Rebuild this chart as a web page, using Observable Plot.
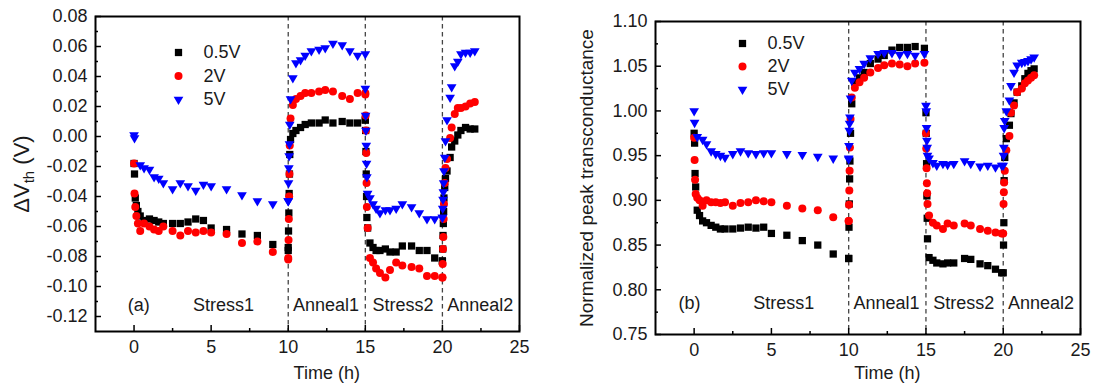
<!DOCTYPE html>
<html>
<head>
<meta charset="utf-8">
<script src="https://cdn.jsdelivr.net/npm/d3@7"></script>
<script src="https://cdn.jsdelivr.net/npm/@observablehq/plot@0.6"></script>
<style>
  body { margin: 0; background: #fff; }
  #wrap { display: flex; width: 1094px; height: 385px; }
</style>
</head>
<body>
<div id="wrap"></div>
<script>
// ---------- shared ----------
const seriesNames = ["0.5V", "2V", "5V"];
const phaseNames = ["Stress1", "Anneal1", "Stress2", "Anneal2"];
const phaseCenters = [5.8, 12.45, 17.45, 22.45];
const phaseBounds = [10, 15, 20];
const xMajor = [0, 5, 10, 15, 20, 25];
const xMinor = [2.5, 7.5, 12.5, 17.5, 22.5];

// ---------- panel (a): ΔVth ----------
const aYMajor = [-0.12, -0.10, -0.08, -0.06, -0.04, -0.02, 0.00, 0.02, 0.04, 0.06, 0.08];
const aYMinor = [-0.11, -0.09, -0.07, -0.05, -0.03, -0.01, 0.01, 0.03, 0.05, 0.07];

const aT_s1 = [0, 0.03, 0.08, 0.15, 0.25, 0.4, 0.65, 1.0, 1.3, 1.6, 1.9, 2.5, 3.0, 3.5, 4.0, 4.5, 5.0, 6, 7, 8, 9, 10];
const a05_s1 = [-0.018, -0.025, -0.041, -0.046, -0.050, -0.053, -0.056, -0.055, -0.056, -0.057, -0.058, -0.058, -0.058, -0.057, -0.055, -0.056, -0.061, -0.062, -0.065, -0.066, -0.072, -0.076];
const a2_s1 = [-0.018, -0.038, -0.047, -0.053, -0.058, -0.063, -0.058, -0.060, -0.062, -0.063, -0.060, -0.063, -0.066, -0.063, -0.064, -0.063, -0.064, -0.065, -0.071, -0.070, -0.077, -0.082];
const a5_s1 = [0.001, -0.001, null, null, null, -0.019, -0.021, -0.022, -0.027, -0.028, -0.031, -0.035, -0.031, -0.033, -0.036, -0.032, -0.033, -0.035, -0.039, -0.043, -0.045, -0.043];

const aT_a1 = [10.0, 10.02, 10.04, 10.06, 10.08, 10.1, 10.15, 10.3, 10.5, 10.8, 11.1, 11.5, 12.0, 12.4, 12.9, 13.5, 14.0, 14.5, 15.0];
const a05_a1 = [-0.074, -0.063, -0.051, -0.038, -0.025, -0.012, -0.002, 0.002, 0.004, 0.006, 0.008, 0.009, 0.009, 0.011, 0.009, 0.010, 0.009, 0.009, 0.011];
const a2_a1 = [-0.081, -0.069, -0.055, -0.040, -0.025, -0.006, 0.012, 0.021, 0.025, 0.027, 0.029, 0.029, 0.030, 0.031, 0.030, 0.027, 0.025, 0.029, 0.029];
const a5_a1 = [-0.043, -0.031, -0.021, -0.013, -0.005, 0.008, 0.025, 0.039, 0.049, 0.051, 0.054, 0.057, 0.058, 0.059, 0.062, 0.061, 0.057, 0.054, 0.055];

const aT_s2 = [15.0, 15.02, 15.04, 15.06, 15.08, 15.1, 15.15, 15.3, 15.5, 15.7, 15.95, 16.3, 16.6, 17.0, 17.4, 18.0, 18.5, 19.0, 19.5, 20.0];
const a05_s2 = [0.011, 0.004, -0.010, -0.025, -0.040, -0.054, -0.061, -0.071, -0.074, -0.076, -0.076, -0.075, -0.077, -0.077, -0.073, -0.073, -0.076, -0.076, -0.081, -0.083];
const a2_s2 = [0.028, 0.014, 0.004, -0.011, -0.031, -0.047, -0.061, -0.081, -0.084, -0.088, -0.091, -0.094, -0.089, -0.084, -0.086, -0.087, -0.088, -0.093, -0.093, -0.094];
const a5_s2 = [0.032, 0.014, 0.004, -0.006, -0.018, -0.027, -0.038, -0.041, -0.045, -0.048, -0.051, -0.049, -0.049, -0.048, -0.045, -0.047, -0.051, -0.055, -0.055, -0.054];

const aT_a2 = [20.0, 20.02, 20.04, 20.06, 20.08, 20.1, 20.15, 20.2, 20.3, 20.5, 20.6, 20.8, 21.0, 21.2, 21.5, 21.8, 22.1];
const a05_a2 = [-0.083, -0.075, -0.066, -0.058, -0.050, -0.041, -0.034, -0.028, -0.023, -0.014, -0.007, -0.003, 0.001, 0.004, 0.006, 0.005, 0.005];
const a2_a2 = [-0.094, -0.085, -0.075, -0.067, -0.055, -0.045, -0.031, -0.021, -0.015, -0.001, 0.006, 0.015, 0.019, 0.019, 0.020, 0.022, 0.023];
const a5_a2 = [-0.054, -0.048, -0.042, -0.037, -0.031, -0.023, -0.014, -0.003, 0.011, 0.026, 0.033, 0.047, 0.050, 0.055, 0.056, 0.056, 0.057];

// ---------- panel (b): normalized peak transconductance ----------
const bYMajor = [0.75, 0.80, 0.85, 0.90, 0.95, 1.00, 1.05, 1.10];
const bYMinor = [0.775, 0.825, 0.875, 0.925, 0.975, 1.025, 1.075];

const bT_s1 = [0, 0.03, 0.06, 0.1, 0.2, 0.35, 0.55, 0.8, 1.1, 1.4, 1.7, 2.0, 2.5, 3.0, 3.5, 4.0, 4.5, 5.0, 6, 7, 8, 9, 10];
const b05_s1 = [0.975, 0.964, 0.930, 0.915, 0.889, 0.883, 0.877, 0.875, 0.872, 0.870, 0.868, 0.868, 0.868, 0.869, 0.870, 0.869, 0.870, 0.863, 0.861, 0.855, 0.850, 0.840, 0.835];
const b2_s1 = [0.970, 0.945, 0.923, 0.907, 0.903, 0.900, 0.894, 0.900, 0.898, 0.898, 0.897, 0.898, 0.894, 0.897, 0.898, 0.900, 0.899, 0.898, 0.894, 0.891, 0.889, 0.881, 0.877];
const b5_s1 = [1.000, 0.987, null, null, 0.971, null, 0.968, 0.963, 0.955, 0.952, 0.950, 0.948, 0.952, 0.955, 0.953, 0.952, 0.953, 0.953, 0.952, 0.951, 0.949, 0.947, 0.946];

const bT_a1 = [10.0, 10.02, 10.04, 10.06, 10.08, 10.12, 10.2, 10.4, 10.7, 11.0, 11.4, 11.9, 12.3, 12.8, 13.3, 13.8, 14.3, 14.9];
const b05_a1 = [0.835, 0.870, 0.896, 0.924, 0.944, 0.975, 1.008, 1.032, 1.037, 1.043, 1.053, 1.058, 1.062, 1.068, 1.071, 1.071, 1.072, 1.070];
const b2_a1 = [0.877, 0.895, 0.911, 0.933, 0.959, 0.991, 1.015, 1.026, 1.032, 1.037, 1.043, 1.048, 1.051, 1.053, 1.052, 1.050, 1.053, 1.054];
const b5_a1 = [0.947, 0.961, 0.978, 0.986, 0.993, 1.014, 1.034, 1.043, 1.047, 1.053, 1.059, 1.064, 1.065, 1.065, 1.063, 1.064, 1.062, 1.064];

const bT_s2 = [15.0, 15.02, 15.04, 15.06, 15.08, 15.1, 15.2, 15.45, 15.7, 16.1, 16.4, 16.8, 17.5, 17.9, 18.5, 19.0, 19.5, 19.9];
const b05_s2 = [0.998, 0.975, 0.941, 0.905, 0.880, 0.857, 0.836, 0.833, 0.830, 0.829, 0.830, 0.830, 0.835, 0.834, 0.829, 0.827, 0.823, 0.819];
const b2_s2 = [0.975, 0.958, 0.936, 0.919, 0.908, 0.896, 0.883, 0.875, 0.872, 0.868, 0.874, 0.872, 0.874, 0.872, 0.868, 0.866, 0.864, 0.863];
const b5_s2 = [1.006, 1.000, 0.981, 0.967, 0.959, 0.950, 0.947, 0.942, 0.939, 0.941, 0.940, 0.941, 0.944, 0.941, 0.938, 0.939, 0.937, 0.939];

const bT_a2 = [20.0, 20.02, 20.04, 20.06, 20.1, 20.2, 20.4, 20.5, 20.7, 20.9, 21.2, 21.4, 21.6, 21.8, 22.0];
const b05_a2 = [0.819, 0.850, 0.875, 0.922, 0.948, 0.969, 0.984, 0.997, 1.009, 1.021, 1.028, 1.036, 1.042, 1.045, 1.047];
const b2_a2 = [0.863, 0.896, 0.909, 0.920, 0.933, 0.956, 0.972, 0.998, 1.006, 1.021, 1.025, 1.031, 1.034, 1.037, 1.040];
const b5_a2 = [0.939, 0.950, 0.959, 0.981, 0.989, 1.000, 1.012, 1.028, 1.043, 1.051, 1.054, 1.055, 1.056, 1.058, 1.060];

// ---------- helpers ----------
function rows(times, vals) {
  return times.map((t, i) => ({t, v: vals[i]})).filter(d => d.v != null);
}
function join(...parts) { return parts.flat(); }

const FONT = "'Liberation Sans', Arial, Helvetica, sans-serif";
const TXT = "#1a1a1a";
const styles = [
  {symbol: "square", fill: "#000000", r: 4.1, rotate: 0},
  {symbol: "circle", fill: "#ff0000", r: 4.0, rotate: 0},
  {symbol: "triangle", fill: "#0000ff", r: 3.6, rotate: 180}
];

function panel(cfg) {
  const m = cfg.margin;
  const dotMarks = cfg.data.map((d, i) => Plot.dot(d, {x: "t", y: "v", symbol: styles[i].symbol, fill: styles[i].fill, r: styles[i].r, rotate: styles[i].rotate}));
  const legendMarks = seriesNames.flatMap((s, i) => [
    Plot.dot([s], {frameAnchor: "top-left", dx: cfg.legend.x, dy: cfg.legend.y + i * cfg.legend.step, symbol: styles[i].symbol, fill: styles[i].fill, r: styles[i].r, rotate: styles[i].rotate}),
    Plot.text([s], {frameAnchor: "top-left", dx: cfg.legend.x + 25, dy: cfg.legend.y + i * cfg.legend.step, text: d => d, textAnchor: "start", lineAnchor: "middle", fontSize: 18, fill: TXT})
  ]);
  const svg = Plot.plot({
    width: 547, height: 385,
    marginLeft: m[0], marginRight: m[1], marginTop: m[2], marginBottom: m[3],
    style: {fontFamily: FONT, fontSize: "18px", color: "#000", background: "white", overflow: "visible"},
    x: {domain: [-2.5, 25]},
    y: {domain: cfg.yDomain},
    marks: [
      Plot.ruleX(phaseBounds, {stroke: "#444", strokeDasharray: "4.5,3.5", strokeWidth: 1.3}),
      Plot.axisX(xMinor, {tickSize: -3, tickFormat: () => "", strokeWidth: 1.5, label: null}),
      Plot.axisX(xMajor, {tickSize: -6, tickPadding: 15, tickFormat: d => String(d), strokeWidth: 1.5, label: null, fill: TXT, fontSize: 18}),
      Plot.axisY(cfg.yMinor, {tickSize: -3, tickFormat: () => "", strokeWidth: 1.5, label: cfg.yLabel, labelAnchor: "center", labelArrow: "none", labelOffset: cfg.labelOffset, fontSize: cfg.yLabelSize, fill: TXT}),
      Plot.axisY(cfg.yMajor, {tickSize: -6, tickPadding: 14, tickFormat: d => d.toFixed(2), strokeWidth: 1.5, label: null, fill: TXT, fontSize: 18}),
      ...dotMarks,
      Plot.frame({stroke: "#000", strokeWidth: 2}),
      ...legendMarks,
      Plot.text(phaseNames, {x: (d, i) => phaseCenters[i], frameAnchor: "bottom", dy: cfg.phaseDy, text: d => d, lineAnchor: "middle", fontSize: 18, fill: TXT}),
      Plot.text([cfg.tag], {x: [cfg.tagX], frameAnchor: "bottom", dy: cfg.phaseDy, text: d => d, lineAnchor: "middle", fontSize: 18, fill: TXT}),
      Plot.text(["Time (h)"], {x: [12.5], frameAnchor: "bottom", dy: cfg.xLabelDy, text: d => d, lineAnchor: "middle", fontSize: 18, fill: TXT})
    ]
  });
  return svg;
}

const left = panel({
  margin: [95, 28, 16, 54],
  yDomain: [-0.13, 0.08], yMajor: aYMajor, yMinor: aYMinor,
  yLabel: "ΔVth (V)", yLabelSize: 22, labelOffset: 82,
  legend: {x: 83, y: 36, step: 23.5},
  phaseDy: -26, tag: "(a)", tagX: 0.3, xLabelDy: 42,
  data: [
    join(rows(aT_s1, a05_s1), rows(aT_a1, a05_a1), rows(aT_s2, a05_s2), rows(aT_a2, a05_a2)),
    join(rows(aT_s1, a2_s1), rows(aT_a1, a2_a1), rows(aT_s2, a2_s2), rows(aT_a2, a2_a2)),
    join(rows(aT_s1, a5_s1), rows(aT_a1, a5_a1), rows(aT_s2, a5_s2), rows(aT_a2, a5_a2))
  ]
});

const right = panel({
  margin: [108, 14, 21, 51],
  yDomain: [0.75, 1.10], yMajor: bYMajor, yMinor: bYMinor,
  yLabel: "Normalized peak transconductance", yLabelSize: 19, labelOffset: 76,
  legend: {x: 87, y: 22, step: 23},
  phaseDy: -31, tag: "(b)", tagX: -0.3, xLabelDy: 39,
  data: [
    join(rows(bT_s1, b05_s1), rows(bT_a1, b05_a1), rows(bT_s2, b05_s2), rows(bT_a2, b05_a2)),
    join(rows(bT_s1, b2_s1), rows(bT_a1, b2_a1), rows(bT_s2, b2_s2), rows(bT_a2, b2_a2)),
    join(rows(bT_s1, b5_s1), rows(bT_a1, b5_a1), rows(bT_s2, b5_s2), rows(bT_a2, b5_a2))
  ]
});

// subscript "th" in ΔVth
(function () {
  const t = left.querySelector('g[aria-label="y-axis label"] text');
  if (!t) return;
  const ns = "http://www.w3.org/2000/svg";
  while (t.firstChild) t.removeChild(t.firstChild);
  const a = document.createElementNS(ns, "tspan"); a.textContent = "ΔV";
  const b = document.createElementNS(ns, "tspan"); b.textContent = "th"; b.setAttribute("font-size", "15"); b.setAttribute("dy", "5");
  const c = document.createElementNS(ns, "tspan"); c.textContent = " (V)"; c.setAttribute("dy", "-5");
  t.appendChild(a); t.appendChild(b); t.appendChild(c);
})();

document.getElementById("wrap").appendChild(left);
document.getElementById("wrap").appendChild(right);
</script>
</body>
</html>
